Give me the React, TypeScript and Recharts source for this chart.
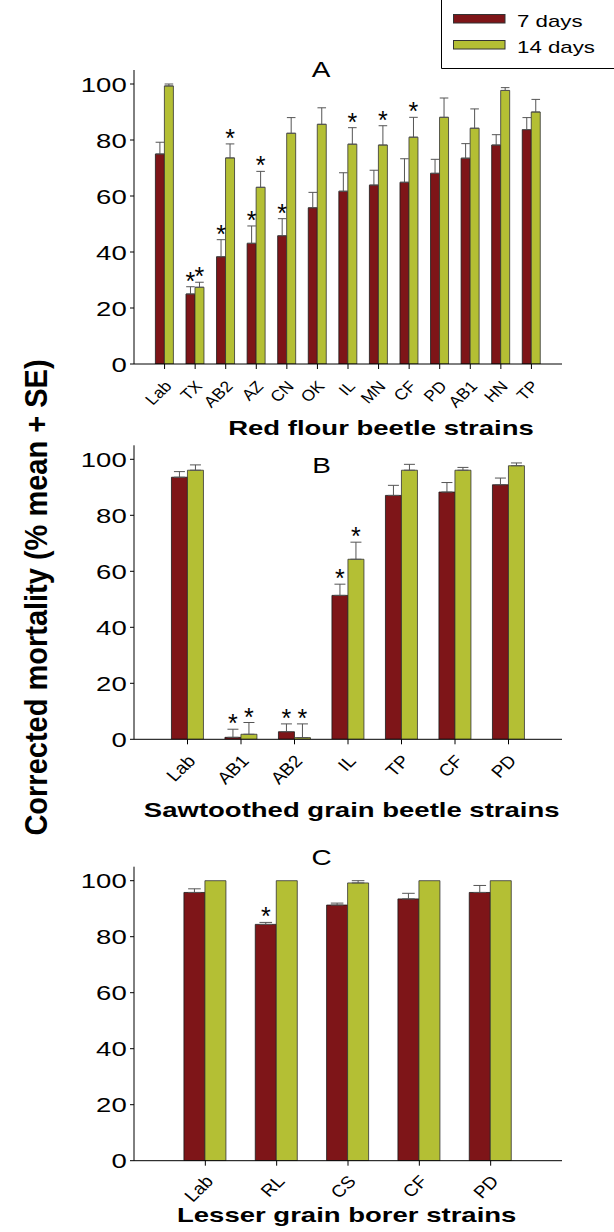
import React from 'react';
import { BarChart, Bar, XAxis, YAxis, ErrorBar, LabelList, Legend } from 'recharts';

const FONT = '"Liberation Sans", Arial, Helvetica, sans-serif';
const RED = '#7E1518';
const GREEN = '#B4BF34';
const SX = 1.31;

const seriesNames = ['7 days', '14 days'];
const yTicks = [0, 20, 40, 60, 80, 100];

// Panel A – Red flour beetle
const strainsA = ['Lab', 'TX', 'AB2', 'AZ', 'CN', 'OK', 'IL', 'MN', 'CF', 'PD', 'AB1', 'HN', 'TP'];
const mort7A = [75, 25, 38.3, 43.1, 45.8, 55.8, 61.7, 63.9, 64.9, 68.1, 73.5, 78.2, 83.7];
const se7A = [4.2, 2.6, 6.1, 6.2, 6.1, 5.5, 6.6, 5.3, 8.4, 5.0, 5.2, 3.7, 4.3];
const mort14A = [99.3, 27.4, 73.6, 63.1, 82.4, 85.6, 78.5, 78.2, 81.0, 88.1, 84.2, 97.7, 90.0];
const se14A = [0.7, 1.8, 5.0, 5.7, 5.6, 5.9, 5.9, 6.9, 7.1, 6.9, 6.9, 1.0, 4.5];
const sig7A = [false, true, true, true, true, false, false, false, false, false, false, false, false];
const sig14A = [false, true, true, true, false, false, true, true, true, false, false, false, false];

// Panel B – Sawtoothed grain beetle
const strainsB = ['Lab', 'AB1', 'AB2', 'IL', 'TP', 'CF', 'PD'];
const mort7B = [93.6, 0.7, 2.7, 51.4, 87.1, 88.3, 90.9];
const se7B = [2.0, 2.9, 2.8, 4.0, 3.6, 3.4, 2.4];
const mort14B = [96.1, 1.8, 0.6, 64.3, 96.1, 96.1, 97.7];
const se14B = [1.9, 4.2, 4.9, 6.1, 2.1, 1.0, 1.0];
const sig7B = [false, true, true, true, false, false, false];
const sig14B = [false, true, true, true, false, false, false];

// Panel C – Lesser grain borer
const strainsC = ['Lab', 'RL', 'CS', 'CF', 'PD'];
const mort7C = [95.8, 84.4, 91.3, 93.5, 95.8];
const se7C = [1.3, 0.7, 0.7, 2.0, 2.5];
const mort14C = [100, 100, 99.2, 100, 100];
const se14C = [0, 0, 0.8, 0, 0];
const sig7C = [false, true, false, false, false];
const sig14C = [false, false, false, false, false];

function buildRows(cats: string[], m7: number[], s7: number[], m14: number[], s14: number[]) {
  return cats.map((name, i) => ({
    name,
    m7: m7[i],
    e7: s7[i] ? [0, s7[i]] : null,
    t7: s7[i],
    m14: m14[i],
    e14: s14[i] ? [0, s14[i]] : null,
    t14: s14[i],
  }));
}

const rowsA = buildRows(strainsA, mort7A, se7A, mort14A, se14A);
const rowsB = buildRows(strainsB, mort7B, se7B, mort14B, se14B);
const rowsC = buildRows(strainsC, mort7C, se7C, mort14C, se14C);

const makeXTick = (fs: number, dx: number, dy: number) => (props: any) => {
  const { x, y, payload } = props;
  const ax = x + dx;
  const ay = y + dy;
  return (
    <text transform={`translate(${ax},${ay}) scale(1.12,1) rotate(-47)`} x={0} y={0} textAnchor="end" fontSize={fs} fontFamily={FONT} fill="#000">
      {payload.value}
    </text>
  );
};

const YTick = (props: any) => {
  const { x, y, payload } = props;
  return (
    <text transform={`translate(${x},${y}) scale(${SX},1)`} x={0} y={0} dy="0.36em" textAnchor="end" fontSize={21} fontFamily={FONT} fill="#000">
      {payload.value}
    </text>
  );
};

const starLabel = (flags: boolean[]) => (props: any) => {
  const { x, y, width, index } = props;
  if (!flags[index]) return null;
  return (
    <text x={Number(x) + Number(width) / 2} y={Number(y) + 3} textAnchor="middle" fontSize={25} fontFamily={FONT} fill="#000">
      *
    </text>
  );
};

const LegendBox = (props: any) => {
  const items = (props.payload || [])
    .filter((p: any) => seriesNames.indexOf(p.value) >= 0)
    .slice()
    .sort((a: any, b: any) => seriesNames.indexOf(a.value) - seriesNames.indexOf(b.value));
  return (
    <svg width={614} height={70} style={{ display: 'block' }}>
      <path d="M441.5,0 L441.5,68.5 L614,68.5" fill="none" stroke="#000" strokeWidth={1} />
      {items.map((it: any, i: number) => (
        <g key={i}>
          <rect x={453.5} y={14.5 + i * 26} width={51.5} height={8.5} fill={it.color} stroke="#333" strokeWidth={1} />
          <text transform={`translate(517,${26.5 + i * 26}) scale(${SX},1)`} fontSize={17} fontFamily={FONT} fill="#000">
            {it.value}
          </text>
        </g>
      ))}
    </svg>
  );
};

function Panel(p: any) {
  return (
    <div style={{ position: 'absolute', left: 0, top: 0, width: 614, height: 1232 }}>
      <BarChart
        width={614}
        height={1232}
        data={p.rows}
        margin={{ top: p.top, right: 52, bottom: p.bottom, left: 0 }}
        barCategoryGap="20%"
        barGap={0}
      >
        <XAxis
          dataKey="name"
          type="category"
          interval={0}
          padding={{ left: p.pad, right: p.pad }}
          height={p.xHeight}
          tickSize={5}
          tickMargin={0}
          axisLine={{ stroke: '#000' }}
          tickLine={{ stroke: '#000' }}
          tick={makeXTick(p.tickFont, p.tickDx, p.tickDy)}
        />
        <YAxis
          type="number"
          domain={[0, 105]}
          ticks={yTicks}
          width={134}
          tickSize={4}
          tickMargin={3.3}
          allowDataOverflow
          axisLine={{ stroke: '#000' }}
          tickLine={{ stroke: '#000' }}
          tick={YTick}
        />
        <Bar dataKey="m7" stackId="d7" name={seriesNames[0]} fill={RED} stroke="#1a1a1a" strokeWidth={0.8} isAnimationActive={false}>
          <ErrorBar dataKey="e7" width={p.capW} stroke="#555" strokeWidth={1} direction="y" />
        </Bar>
        <Bar dataKey="t7" stackId="d7" fill="none" stroke="none" legendType="none" isAnimationActive={false}>
          <LabelList dataKey="t7" content={starLabel(p.sig7)} />
        </Bar>
        <Bar dataKey="m14" stackId="d14" name={seriesNames[1]} fill={GREEN} stroke="#333" strokeWidth={0.8} isAnimationActive={false}>
          <ErrorBar dataKey="e14" width={p.capW} stroke="#555" strokeWidth={1} direction="y" />
        </Bar>
        <Bar dataKey="t14" stackId="d14" fill="none" stroke="none" legendType="none" isAnimationActive={false}>
          <LabelList dataKey="t14" content={starLabel(p.sig14)} />
        </Bar>
        {p.legend ? (
          <Legend
            layout="vertical"
            align="center"
            verticalAlign="middle"
            content={LegendBox}
            wrapperStyle={{ left: 0, top: 0, width: 614, height: 70, margin: 0, padding: 0 }}
          />
        ) : null}
        {p.children}
      </BarChart>
    </div>
  );
}

export default function App() {
  return (
    <div style={{ position: 'absolute', left: 0, top: 0, width: 614, height: 1232, background: '#fff', overflow: 'hidden' }}>
      <Panel rows={rowsA} sig7={sig7A} sig14={sig14A} top={70} bottom={787} xHeight={81} pad={15.29}
        tickFont={15.5} tickDx={8} tickDy={18} capW={4.3} legend>
        <text transform={`translate(321,77) scale(1.27,1)`} textAnchor="middle" fontSize={22} fontFamily={FONT} fill="#000">A</text>
        <text transform={`translate(381,435) scale(${SX},1)`} textAnchor="middle" fontSize={21} fontWeight="bold" fontFamily={FONT} fill="#000">Red flour beetle strains</text>
      </Panel>
      <Panel rows={rowsB} sig7={sig7B} sig14={sig14B} top={445.3} bottom={402} xHeight={90.7} pad={26.75}
        tickFont={17} tickDx={9} tickDy={17.5} capW={5.5}>
        <text transform={`translate(321.5,473.3) scale(1.27,1)`} textAnchor="middle" fontSize={22} fontFamily={FONT} fill="#000">B</text>
        <text transform={`translate(351.7,816.7) scale(${SX},1)`} textAnchor="middle" fontSize={21} fontWeight="bold" fontFamily={FONT} fill="#000">Sawtoothed grain beetle strains</text>
        <text transform={`translate(46.5,597.5) rotate(-90) scale(1,1.09)`} textAnchor="middle" fontSize={29} fontWeight="bold" fontFamily={FONT} fill="#000">Corrected mortality (% mean + SE)</text>
      </Panel>
      <Panel rows={rowsC} sig7={sig7C} sig14={sig14C} top={866.7} bottom={0.3} xHeight={71} pad={35.67}
        tickFont={17} tickDx={9} tickDy={16.5} capW={6.3}>
        <text transform={`translate(321.5,865) scale(1.27,1)`} textAnchor="middle" fontSize={22} fontFamily={FONT} fill="#000">C</text>
        <text transform={`translate(346.7,1221.7) scale(${SX},1)`} textAnchor="middle" fontSize={21} fontWeight="bold" fontFamily={FONT} fill="#000">Lesser grain borer strains</text>
      </Panel>
    </div>
  );
}
